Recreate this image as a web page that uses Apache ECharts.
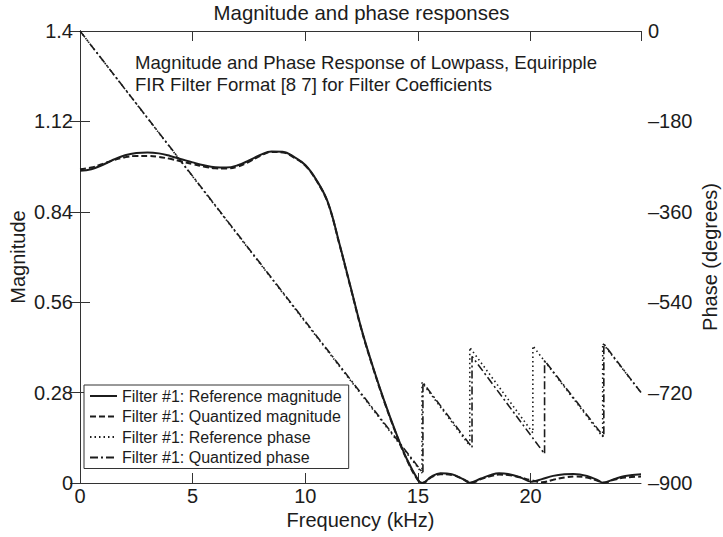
<!DOCTYPE html>
<html>
<head>
<meta charset="utf-8">
<script src="https://cdn.jsdelivr.net/npm/echarts@6/dist/echarts.min.js"></script>
<style>
  html, body { margin: 0; padding: 0; background: #fff; }
  #chart { width: 723px; height: 537px; }
</style>
</head>
<body>
<div id="chart"></div>
<script>
// Frequency axis (kHz) and tick labels
const freqTickLabels = ['0', '5', '10', '15', '20'];
const magTickLabels = ['0', '0.28', '0.56', '0.84', '1.12', '1.4'];
const phaseTickLabels = ['\u2013900', '\u2013720', '\u2013540', '\u2013360', '\u2013180', '0'];

// Reference magnitude response
const refMagFreq = [0, 0.5, 1, 1.5, 2, 2.5, 3, 3.5, 4, 4.5, 5, 5.5, 6, 6.5, 7, 7.5, 8, 8.5, 9, 9.5,
  10, 10.5, 11, 11.5, 12, 12.5, 13, 13.5, 14, 14.5, 15, 15.18, 15.6, 16, 16.5, 17, 17.3, 17.8, 18.2,
  18.6, 19, 19.5, 20.05, 20.5, 21, 21.5, 21.9, 22.5, 23, 23.2, 23.7, 24.2, 24.9];
const refMag = [0.967, 0.972, 0.985, 1.002, 1.015, 1.022, 1.024, 1.021, 1.013, 1.003, 0.993, 0.984,
  0.978, 0.977, 0.984, 0.999, 1.016, 1.027, 1.026, 1.010, 0.985, 0.938, 0.870, 0.745, 0.610, 0.475,
  0.360, 0.255, 0.160, 0.075, 0.010, 0.000, 0.020, 0.030, 0.027, 0.012, 0.001, 0.014, 0.024, 0.030,
  0.028, 0.019, 0.004, 0.012, 0.022, 0.027, 0.028, 0.022, 0.008, 0.001, 0.012, 0.022, 0.027];

// Quantized magnitude response
const quantMagFreq = [0, 0.5, 1, 1.5, 2, 2.5, 3, 3.5, 4, 4.5, 5, 5.5, 6, 6.5, 7, 7.5, 8, 8.5, 9, 9.5,
  10, 10.5, 11, 11.5, 12, 12.5, 13, 13.5, 14, 14.5, 15, 15.22, 15.6, 16, 16.5, 17, 17.4, 17.8, 18.2,
  18.6, 19, 19.5, 20, 20.5, 21, 21.5, 22, 22.5, 23, 23.25, 23.7, 24.2, 24.9];
const quantMag = [0.972, 0.977, 0.988, 1.000, 1.009, 1.013, 1.013, 1.010, 1.004, 0.996, 0.988, 0.980,
  0.975, 0.974, 0.980, 0.995, 1.013, 1.025, 1.024, 1.008, 0.983, 0.936, 0.868, 0.743, 0.608, 0.473,
  0.358, 0.253, 0.158, 0.073, 0.009, 0.000, 0.018, 0.027, 0.025, 0.012, 0.001, 0.012, 0.021, 0.026,
  0.025, 0.018, 0.009, 0.002, 0.010, 0.017, 0.020, 0.017, 0.006, 0.001, 0.010, 0.017, 0.020];

// Phase responses (degrees), wrapped at magnitude zeros
const refPhaseFreq = [0, 15.18, 15.18, 17.3, 17.3, 20.1, 20.1, 23.2, 23.2, 24.9];
const refPhase = [0, -880, -700, -826, -630, -800, -627, -808, -622, -720];
const quantPhaseFreq = [0, 15.22, 15.22, 17.4, 17.4, 20.62, 20.62, 23.25, 23.25, 24.9];
const quantPhase = [0, -880, -700, -829, -648, -842, -656, -808, -623, -720];

const seriesNames = [
  'Filter #1: Reference magnitude',
  'Filter #1: Quantized magnitude',
  'Filter #1: Reference phase',
  'Filter #1: Quantized phase'
];

const pairs = (xs, ys) => xs.map((x, i) => [x, ys[i]]);

const FONT = '"Liberation Sans", Arial, Helvetica, sans-serif';
const INK = '#1c1c1c';
const AXIS = '#333';

const chart = echarts.init(document.getElementById('chart'), null, { renderer: 'svg' });

const axisText = { fontFamily: FONT, fontSize: 20, color: INK };
const nameText = { fontFamily: FONT, fontSize: 20, color: INK };

chart.setOption({
  animation: false,
  backgroundColor: '#fff',
  title: {
    text: 'Magnitude and phase responses',
    left: 'center',
    top: -2,
    textStyle: { fontFamily: FONT, fontSize: 20.4, fontWeight: 'normal', color: INK }
  },
  graphic: [{
    type: 'text',
    left: 135,
    top: 51,
    style: {
      text: 'Magnitude and Phase Response of Lowpass, Equiripple\nFIR Filter Format [8 7] for Filter Coefficients',
      font: '18.6px ' + FONT,
      lineHeight: 22,
      fill: INK
    }
  }],
  legend: {
    orient: 'vertical',
    left: 84,
    top: 385,
    padding: [3, 7, 3, 5],
    itemWidth: 27,
    itemHeight: 14,
    itemGap: 4.5,
    backgroundColor: '#fff',
    borderColor: AXIS,
    borderWidth: 1,
    borderRadius: 0,
    itemStyle: { opacity: 0 },
    textStyle: { fontFamily: FONT, fontSize: 16, color: INK },
    data: seriesNames
  },
  grid: { left: 80, right: 82, top: 31, bottom: 54, containLabel: false, outerBoundsMode: 'none' },
  xAxis: [{
    type: 'value',
    min: 0,
    max: 24.9,
    interval: 5,
    position: 'bottom',
    name: 'Frequency (kHz)',
    nameLocation: 'middle',
    nameGap: 27,
    nameMoveOverlap: false,
    nameTextStyle: nameText,
    axisLine: { lineStyle: { color: AXIS, width: 1 } },
    axisTick: { inside: true, length: 10, lineStyle: { color: AXIS } },
    axisLabel: Object.assign({
      margin: 3,
      showMaxLabel: false,
      formatter: v => (Math.abs(v % 5) < 1e-9 ? freqTickLabels[Math.round(v / 5)] : '')
    }, axisText),
    splitLine: { show: false }
  }, {
    type: 'value',
    min: 0,
    max: 24.9,
    interval: 5,
    position: 'top',
    axisLine: { lineStyle: { color: AXIS, width: 1 } },
    axisTick: { inside: true, length: 10, lineStyle: { color: AXIS } },
    axisLabel: { show: false },
    splitLine: { show: false }
  }],
  yAxis: [{
    type: 'value',
    min: 0,
    max: 1.4,
    interval: 0.28,
    position: 'left',
    name: 'Magnitude',
    nameLocation: 'middle',
    nameGap: 52,
    nameMoveOverlap: false,
    nameTextStyle: nameText,
    axisLine: { show: true, lineStyle: { color: AXIS, width: 1 } },
    axisTick: { show: true, inside: true, length: 10, lineStyle: { color: AXIS } },
    axisLabel: Object.assign({
      margin: 7,
      formatter: v => magTickLabels[Math.round(v / 0.28)]
    }, axisText),
    splitLine: { show: false }
  }, {
    type: 'value',
    min: -900,
    max: 0,
    interval: 180,
    position: 'right',
    name: 'Phase (degrees)',
    nameLocation: 'middle',
    nameGap: 59,
    nameMoveOverlap: false,
    nameTextStyle: nameText,
    axisLine: { show: true, lineStyle: { color: AXIS, width: 1 } },
    axisTick: { show: true, inside: true, length: 10, lineStyle: { color: AXIS } },
    axisLabel: Object.assign({
      margin: 7,
      formatter: v => phaseTickLabels[Math.round((v + 900) / 180)]
    }, axisText),
    splitLine: { show: false }
  }],
  series: [{
    name: seriesNames[2],
    type: 'line',
    yAxisIndex: 1,
    symbol: 'none',
    itemStyle: { color: INK },
    data: pairs(refPhaseFreq, refPhase),
    lineStyle: { color: INK, width: 1.6, type: [1.5, 3] },
    z: 3
  }, {
    name: seriesNames[3],
    type: 'line',
    yAxisIndex: 1,
    symbol: 'none',
    itemStyle: { color: INK },
    data: pairs(quantPhaseFreq, quantPhase),
    lineStyle: { color: INK, width: 1.6, type: [8, 3, 2, 3] },
    z: 4
  }, {
    name: seriesNames[0],
    type: 'line',
    yAxisIndex: 0,
    symbol: 'none',
    smooth: 0.4,
    itemStyle: { color: INK },
    data: pairs(refMagFreq, refMag),
    lineStyle: { color: INK, width: 2 },
    z: 5
  }, {
    name: seriesNames[1],
    type: 'line',
    yAxisIndex: 0,
    symbol: 'none',
    smooth: 0.4,
    itemStyle: { color: INK },
    data: pairs(quantMagFreq, quantMag),
    lineStyle: { color: INK, width: 2, type: [6, 3] },
    z: 6
  }]
});
</script>
</body>
</html>
